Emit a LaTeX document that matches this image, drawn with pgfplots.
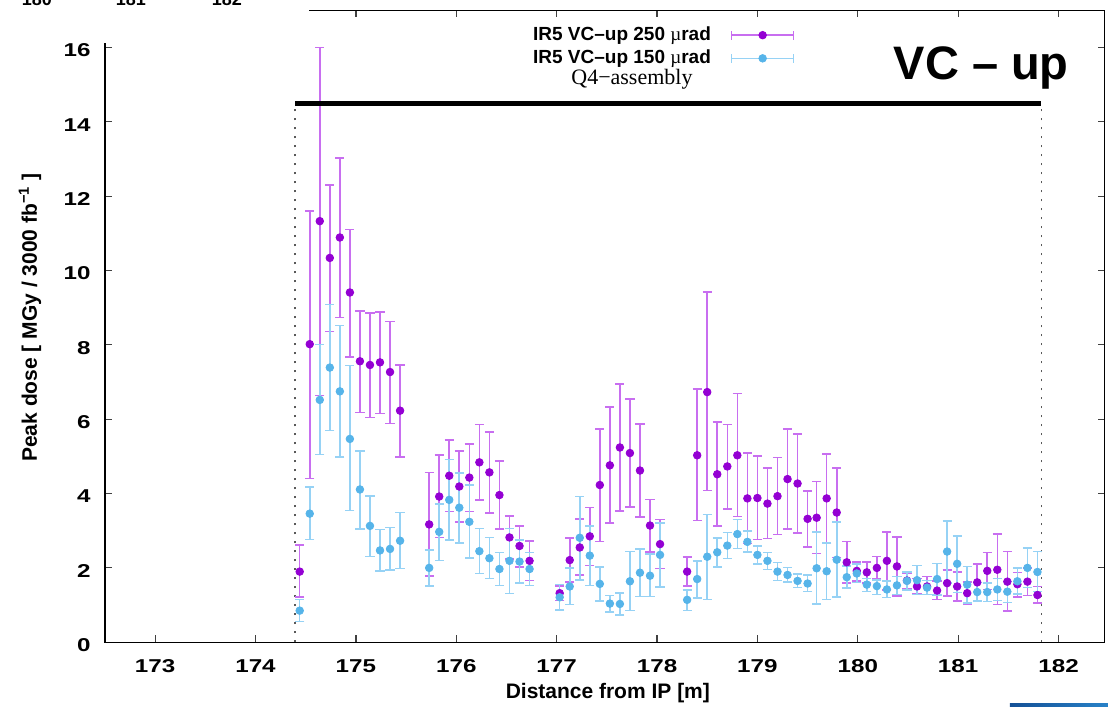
\documentclass[border=0pt]{standalone}
\usepackage{fontspec}
\setmainfont{Liberation Sans}
\newfontfamily\seriffont{Liberation Serif}
\usepackage{graphicx}
\usepackage{pgfplots}
\usepackage{pgfplotstable}
\pgfplotsset{compat=1.18}
\definecolor{markP}{RGB}{148,0,211}
\definecolor{errP}{RGB}{200,110,240}
\definecolor{markB}{RGB}{86,180,233}
\definecolor{errB}{RGB}{150,210,245}

% x  y  lo  hi   (IR5 VC-up 250 urad)
\pgfplotstableread{
x y lo hi
174.44 1.90 1.21 2.61
174.54 8.02 4.41 11.60
174.64 11.33 6.64 16.00
174.74 10.34 8.36 12.31
174.84 10.89 8.74 13.03
174.94 9.41 7.68 11.11
175.04 7.56 6.18 8.92
175.14 7.46 6.05 8.86
175.24 7.53 6.15 8.89
175.34 7.27 5.88 8.63
175.44 6.23 4.99 7.46
175.73 3.17 1.79 4.57
175.83 3.92 2.82 5.03
175.93 4.48 3.52 5.44
176.03 4.19 3.24 5.14
176.13 4.43 3.52 5.34
176.23 4.84 3.82 5.86
176.33 4.57 3.48 5.65
176.43 3.96 3.04 4.88
176.53 2.82 2.24 3.39
176.63 2.59 2.03 3.13
176.73 2.19 1.66 2.73
177.03 1.32 1.12 1.52
177.13 2.21 1.62 2.81
177.23 2.55 1.81 3.31
177.33 2.85 2.06 3.63
177.43 4.23 2.71 5.74
177.53 4.76 3.21 6.33
177.63 5.24 3.53 6.95
177.73 5.09 3.64 6.55
177.83 4.62 3.37 5.87
177.93 3.14 2.43 3.84
178.03 2.64 1.98 3.30
178.30 1.90 1.52 2.29
178.40 5.03 3.27 6.81
178.50 6.73 4.08 9.43
178.60 4.52 3.13 5.92
178.70 4.73 3.59 5.86
178.80 5.03 3.38 6.69
178.90 3.87 2.66 5.09
179.00 3.88 2.76 5.01
179.10 3.73 2.79 4.68
179.20 3.93 2.90 4.97
179.30 4.39 3.05 5.74
179.40 4.27 2.94 5.60
179.50 3.32 2.57 4.07
179.59 3.35 2.39 4.32
179.69 3.87 2.67 5.07
179.79 3.49 2.28 4.69
179.89 2.15 1.59 2.71
179.99 1.92 1.64 2.16
180.09 1.88 1.60 2.16
180.19 2.00 1.70 2.31
180.29 2.19 1.41 2.96
180.39 2.04 1.25 2.83
180.49 1.66 1.45 1.87
180.59 1.50 1.29 1.71
180.69 1.50 1.28 1.77
180.79 1.39 1.15 1.64
180.89 1.59 1.24 1.95
180.99 1.50 1.11 1.89
181.09 1.32 1.03 1.62
181.19 1.61 1.11 2.11
181.29 1.92 1.42 2.41
181.39 1.95 1.01 2.91
181.49 1.63 0.84 2.44
181.59 1.56 1.22 1.88
181.69 1.63 1.26 2.00
181.79 1.27 1.05 1.50
}\tabP

% x  y  lo  hi   (IR5 VC-up 150 urad)
\pgfplotstableread{
x y lo hi
174.44 0.85 0.56 1.15
174.54 3.46 2.76 4.17
174.64 6.52 5.05 8.01
174.74 7.39 5.70 9.09
174.84 6.75 4.99 8.52
174.94 5.47 3.54 7.45
175.04 4.11 3.05 5.15
175.14 3.13 2.31 3.93
175.24 2.47 1.92 3.03
175.34 2.51 1.94 3.09
175.44 2.73 1.98 3.49
175.73 2.00 1.51 2.48
175.83 2.97 2.20 3.72
175.93 3.83 2.75 4.92
176.03 3.62 2.67 4.56
176.13 3.24 2.26 4.23
176.23 2.45 1.85 3.06
176.33 2.26 1.71 2.82
176.43 1.97 1.53 2.41
176.53 2.19 1.31 3.06
176.63 2.17 1.60 2.75
176.73 1.97 1.53 2.41
177.03 1.21 0.87 1.55
177.13 1.50 1.01 1.99
177.23 2.81 1.68 3.92
177.33 2.33 1.53 3.13
177.43 1.57 1.11 2.03
177.53 1.04 0.82 1.26
177.63 1.03 0.74 1.32
177.73 1.64 0.85 2.44
177.83 1.87 1.23 2.51
177.93 1.79 1.23 2.37
178.03 2.35 1.49 3.21
178.30 1.14 0.85 1.41
178.40 1.70 1.19 2.19
178.50 2.30 1.15 3.44
178.60 2.42 2.03 2.80
178.70 2.60 2.25 2.95
178.80 2.91 2.52 3.30
178.90 2.70 2.42 2.99
179.00 2.35 2.10 2.59
179.10 2.19 1.96 2.41
179.20 1.90 1.66 2.14
179.30 1.81 1.62 2.01
179.40 1.65 1.47 1.84
179.50 1.58 1.36 1.81
179.59 1.99 1.03 2.96
179.69 1.91 1.15 2.67
179.79 2.22 1.21 3.24
179.89 1.75 1.46 2.05
179.99 1.85 1.61 2.10
180.09 1.55 1.37 1.72
180.19 1.51 1.28 1.68
180.29 1.42 1.20 1.64
180.39 1.53 1.28 1.77
180.49 1.65 1.41 1.89
180.59 1.67 1.28 2.06
180.69 1.47 1.28 1.66
180.79 1.70 1.27 2.12
180.89 2.44 1.59 3.26
180.99 2.11 1.34 2.86
181.09 1.55 1.06 2.04
181.19 1.35 1.11 1.61
181.29 1.35 1.10 1.60
181.39 1.42 1.12 1.72
181.49 1.36 1.07 1.63
181.59 1.64 1.29 2.00
181.69 2.00 1.47 2.53
181.79 1.89 1.37 2.44
}\tabB

\begin{document}
\begin{tikzpicture}
\begin{axis}[
  scale only axis, width=500pt, height=316pt,
  xmin=172.5, xmax=182.46, ymin=0, ymax=17,
  xtick={173,174,...,182}, ytick={0,2,...,16},
  tick align=inside, major tick length=3.5pt,
  axis line style={line width=0.6pt},
  tick style={line width=0.6pt, black!75},
  /pgf/number format/assume math mode=true,
  ticklabel style={font=\fontsize{9.3}{10}\selectfont\bfseries, inner sep=0pt},
  xticklabel={\scalebox{1.3}[1]{\pgfmathprintnumber{\tick}}},
  yticklabel={\scalebox{1.3}[1]{\pgfmathprintnumber{\tick}}},
  xticklabel style={yshift=-8.5pt},
  yticklabel style={xshift=-7pt, yshift=-1.5pt},
  xlabel={Distance from IP [m]},
  xlabel style={at={(axis description cs:0.503,0)}, anchor=north, yshift=-20.5pt, inner sep=0pt, font=\fontsize{10.5}{12}\selectfont\bfseries},
  ylabel={Peak dose [ MGy / 3000 fb\textsuperscript{−1} ]},
  ylabel style={at={(axis description cs:-0.075,0.514)}, anchor=center, inner sep=0pt, font=\fontsize{10.5}{12}\selectfont\bfseries},
  legend style={at={(0.690,0.981)}, anchor=north east, draw=none, fill=none, inner sep=0pt,
    row sep=-0.8pt, column sep=8pt, font=\fontsize{9.5}{11}\selectfont\bfseries,
    cells={anchor=east, inner sep=0.5pt}},
  legend plot pos=right,
]
% dotted markers of the Q4 assembly extent
\addplot[forget plot, black!65, line width=0.7pt, dash pattern=on 1.2pt off 3.3pt] coordinates {(174.395,0) (174.395,14.5)};
\addplot[forget plot, black!65, line width=0.7pt, dash pattern=on 1.2pt off 3.3pt] coordinates {(181.83,0) (181.83,14.5)};

\addplot[only marks, mark=*, mark size=1.9pt, color=markP, mark options={fill=markP, draw=markP},
  legend image code/.code={%
    \draw[errP, line width=0.75pt] (0pt,0pt) -- (31pt,0pt) (0pt,-2.3pt) -- (0pt,2.3pt) (31pt,-2.3pt) -- (31pt,2.3pt);
    \fill[markP] (15.5pt,0pt) circle[radius=1.9pt];},
  error bars/.cd, y dir=both, y explicit,
  error bar style={errP, line width=0.8pt},
  error mark options={rotate=90, errP, mark size=2.3pt, line width=0.8pt}]
  table[x=x, y=y, y error plus expr=\thisrow{hi}-\thisrow{y}, y error minus expr=\thisrow{y}-\thisrow{lo}] {\tabP};
\addlegendentry{IR5 VC–up 250 {\seriffont\mdseries µ}rad}

\addplot[only marks, mark=*, mark size=1.9pt, color=markB, mark options={fill=markB, draw=markB},
  legend image code/.code={%
    \draw[errB, line width=0.75pt] (0pt,0pt) -- (31pt,0pt) (0pt,-2.3pt) -- (0pt,2.3pt) (31pt,-2.3pt) -- (31pt,2.3pt);
    \fill[markB] (15.5pt,0pt) circle[radius=1.9pt];},
  error bars/.cd, y dir=both, y explicit,
  error bar style={errB, line width=0.8pt},
  error mark options={rotate=90, errB, mark size=2.3pt, line width=0.8pt}]
  table[x=x, y=y, y error plus expr=\thisrow{hi}-\thisrow{y}, y error minus expr=\thisrow{y}-\thisrow{lo}] {\tabB};
\addlegendentry{IR5 VC–up 150 {\seriffont\mdseries µ}rad}

% Q4 assembly bar
\addplot[forget plot, black, line width=2.6pt, line cap=butt] coordinates {(174.395,14.5) (181.83,14.5)};

\node[anchor=base, font=\seriffont\fontsize{11}{13}\selectfont] at (axis cs:177.75,15.0) {Q4−assembly};
\node[anchor=base, font=\fontsize{23.5}{28}\selectfont\bfseries] at (axis cs:181.23,15.14) {VC – up};
\end{axis}
% remnants of the neighbouring figure, as in the reference
\fill[white] (-60pt,299.8pt) rectangle (102pt,330pt);
\begin{scope}[font=\fontsize{9}{10}\selectfont\bfseries]
\node[anchor=base, inner sep=0pt] at (-34pt,318.2pt) {180};
\node[anchor=base, inner sep=0pt] at (13pt,318.2pt) {181};
\node[anchor=base, inner sep=0pt] at (61pt,318.2pt) {182};
\end{scope}
\fill[left color={rgb,255:red,20;green,80;blue,150}, right color={rgb,255:red,40;green,130;blue,200}] (452.6pt,-30.8pt) rectangle (502pt,-33pt);
\pgfresetboundingbox
\useasboundingbox (-52.5pt,-32.3pt) rectangle (501.65pt,321.2pt);
\end{tikzpicture}
\end{document}
